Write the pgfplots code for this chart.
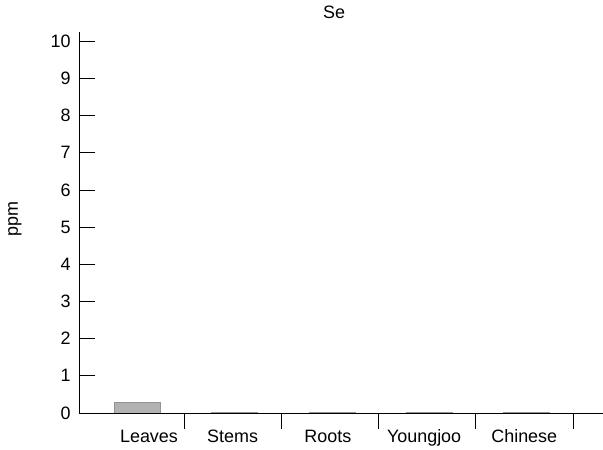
\documentclass[border=0pt]{standalone}
\usepackage{pgfplots}
\pgfplotsset{compat=1.18}
\usepackage{fontspec}
\setmainfont{Liberation Sans}

\begin{document}
\begin{tikzpicture}
\useasboundingbox (-79bp,-37bp) rectangle (524bp,413bp);
\begin{axis}[
  at={(0,0)}, anchor=south west,
  scale only axis,
  width=524bp, height=381bp,
  xmin=0.42, xmax=5.81,
  ymin=0, ymax=10.25,
  axis lines*=left,
  axis line style={-, line width=0.8pt},
  tick align=inside,
  major tick length=16bp,
  tick style={draw=black, line width=0.7pt},
  /pgf/number format/assume math mode=true,
  tick label style={font=\fontsize{18}{21}\selectfont},
  label style={font=\fontsize{18}{21}\selectfont},
  title style={font=\fontsize{18}{21}\selectfont, at={(0.487,1)}, yshift=4bp},
  ytick={0,1,...,10},
  yticklabel style={xshift=-5bp},
  % dividers between the groups
  xtick={1.5,2.5,3.5,4.5,5.5},
  xticklabels={},
  % group names
  extra x ticks={1.14,2.0,2.98,3.97,5.0},
  extra x tick labels={Leaves,Stems,Roots,Youngjoo,Chinese},
  extra x tick style={tick style={draw=none},
    xticklabel style={text height=13bp, text depth=4bp, yshift=3bp}},
  ylabel={ppm},
  ylabel style={at={(ticklabel cs:0.51)}, yshift=22bp},
  title={Se},
  ybar, bar width=46bp,
]
% measured selenium content per plant part / variety
\addplot[fill=gray!60, draw=gray!85, line width=0.4pt]
  coordinates {(1.02,0.28) (2.02,0.02) (3.02,0.02) (4.02,0.02) (5.02,0.02)};
\end{axis}
\end{tikzpicture}
\end{document}
